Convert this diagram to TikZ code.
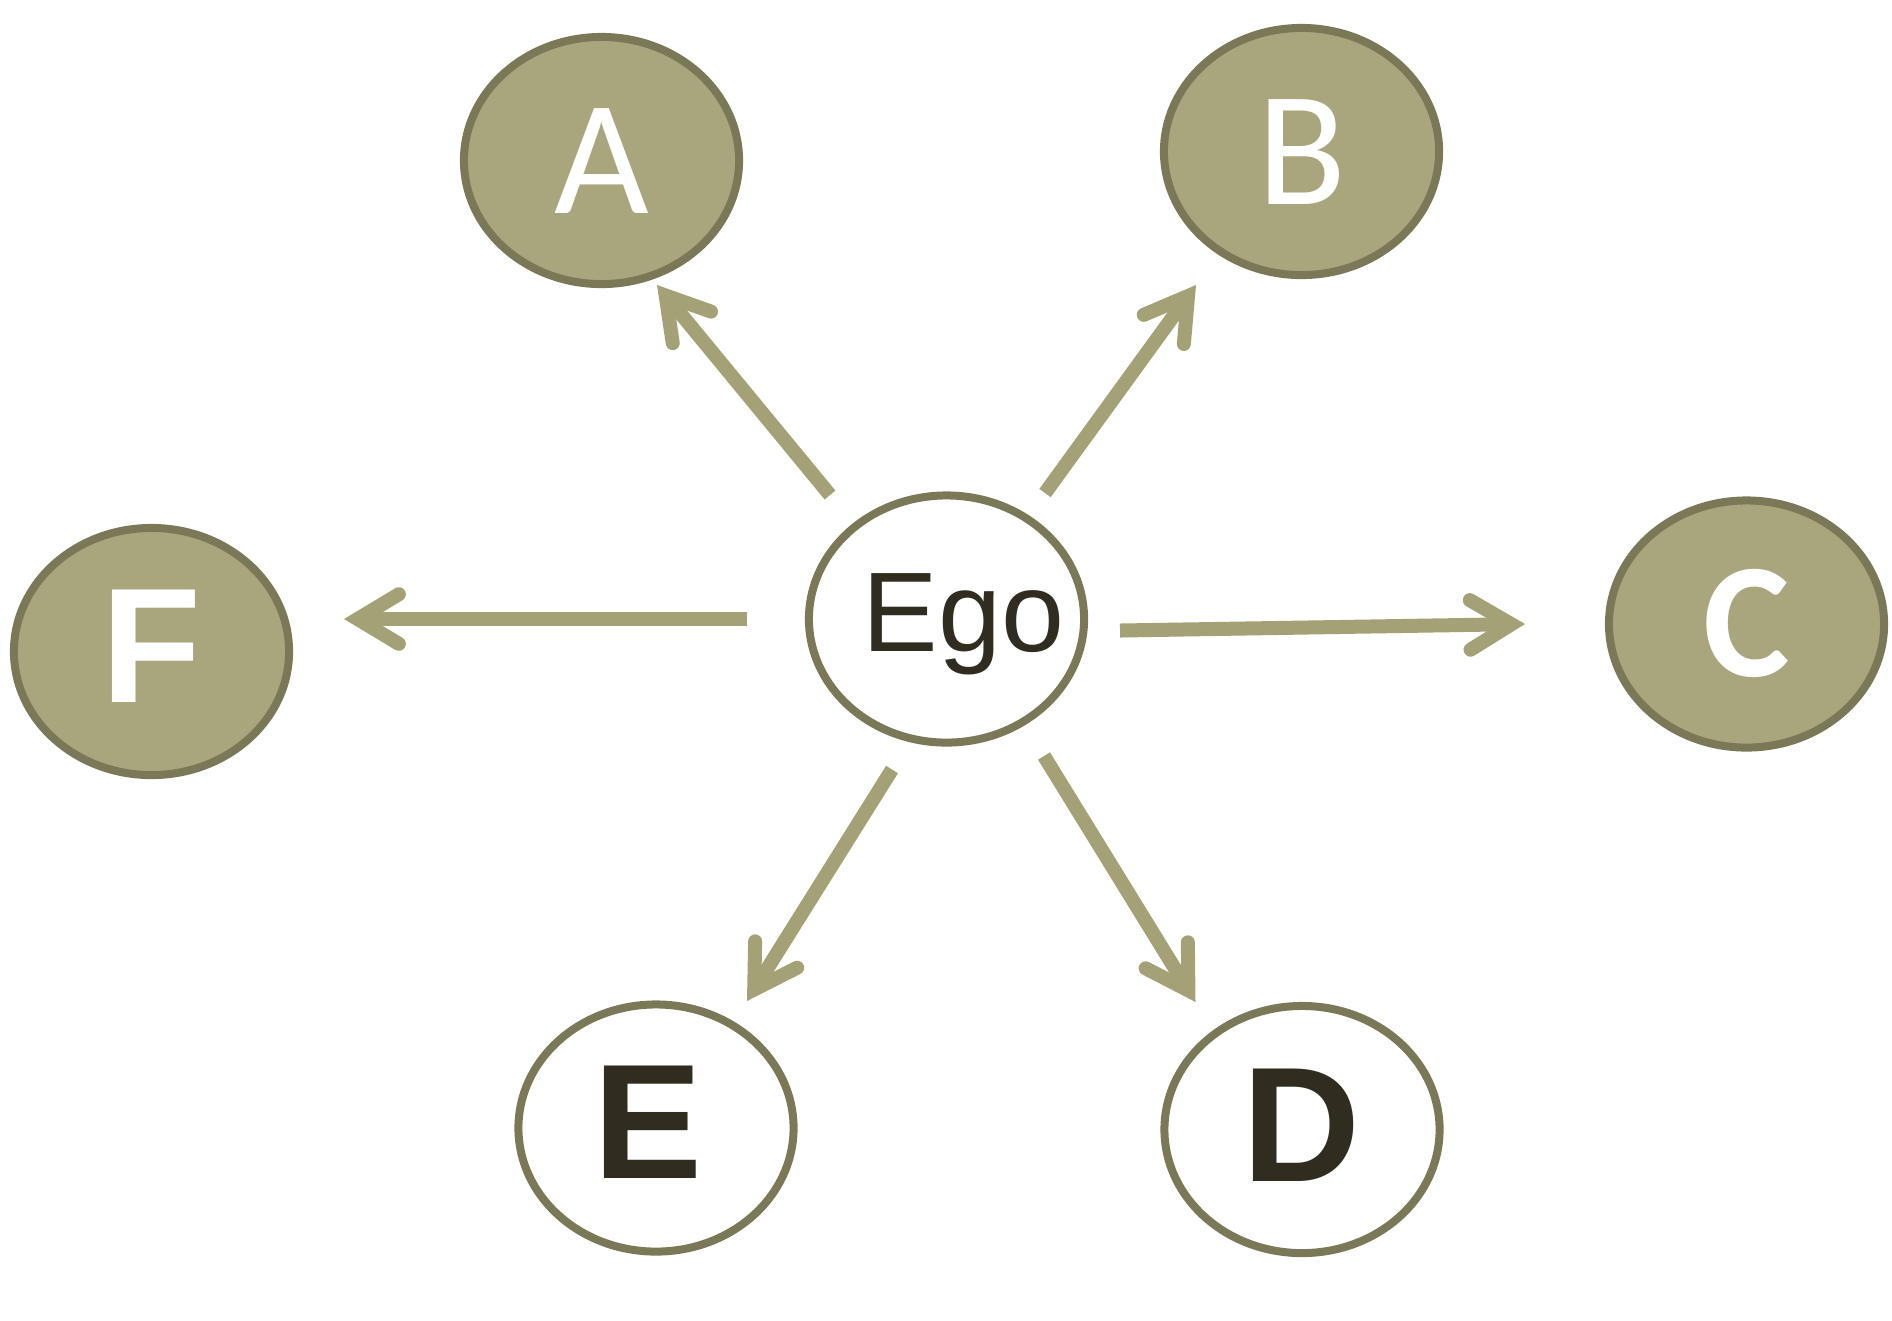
\documentclass[tikz,border=0pt]{standalone}
\usepackage{fontspec}
\newfontfamily\calfont{Carlito}
\newfontfamily\arifont{Liberation Sans}
\usetikzlibrary{shapes.geometric,calc}
\definecolor{nodefill}{HTML}{A9A57C}
\definecolor{nodeedge}{HTML}{7B7858}
\definecolor{arrowcol}{HTML}{A5A176}
\definecolor{inkdark}{HTML}{302C20}
\tikzset{
  person/.style={ellipse, draw=nodeedge, line width=0.08cm, minimum width=2.75cm,
    minimum height=2.47cm, inner sep=0pt, outer sep=0pt, text depth=0pt},
  filledp/.style={person, fill=nodefill, text=white},
  openp/.style={person, fill=white, text=inkdark},
  calbig/.style={font=\calfont\fontsize{46.5pt}{50pt}\selectfont, text height=1.05cm},
  calbold/.style={font=\calfont\bfseries\fontsize{46.5pt}{50pt}\selectfont, text height=1.05cm},
  aribold/.style={font=\arifont\bfseries\fontsize{46.5pt}{50pt}\selectfont, text height=1.17cm},
  arireg/.style={font=\arifont\fontsize{32.2pt}{36pt}\selectfont, text height=0.81cm},
  shaft/.style={draw=arrowcol, line width=0.14cm, line cap=butt},
  barb/.style={draw=arrowcol, line width=0.14cm, line cap=round, line join=miter},
}
\newcommand\conn[2]{%
  \path (#1) coordinate (cs) (#2) coordinate (ct);
  \coordinate (cv) at ($(ct)!0.136cm!(cs)$);
  \draw[shaft] (cs) -- (cv);
  \draw[barb] ($(cv)!0.481cm!31:(cs)$) -- (cv) -- ($(cv)!0.481cm!-31:(cs)$);
}
\begin{document}
\begin{tikzpicture}[x=0.01cm, y=-0.01cm]
  \fill[white] (0,0) rectangle (1892,1320);
  \useasboundingbox (0,0) rectangle (1892,1320);

  \node[openp, arireg, text depth=0.16cm] (ego) at (946.5,619) {\makebox[0pt]{\hspace{0.34cm}Ego}};
  \node[filledp, calbig] (A) at (601.5,160.5) {\makebox[0pt]{A}};
  \node[filledp, calbig] (B) at (1301.5,151.5) {\makebox[0pt]{B}};
  \node[filledp, calbold] (C) at (1746.5,624) {\makebox[0pt]{C}};
  \node[filledp, aribold, text depth=0.15cm] (F) at (151.5,651.5) {\makebox[0pt]{F}};
  \node[openp, aribold, text depth=0.16cm] (E) at (656,1128) {\makebox[0pt]{E\hspace{0.16cm}}};
  \node[openp, aribold, text depth=0.14cm] (D) at (1302,1129.5) {\makebox[0pt]{D}};

  \conn{$(ego)+(-116.5,-124)$}{$(A)+(55.5,124.5)$}
  \conn{$(ego)+(98.5,-126)$}{$(B)+(-105.5,133.5)$}
  \conn{$(ego)+(-200,0)$}{$(F)+(192.5,-32.5)$}
  \conn{$(ego)+(173.5,11.5)$}{$(C)+(-221.5,0)$}
  \conn{$(ego)+(-54.5,150.5)$}{$(E)+(91,-127)$}
  \conn{$(ego)+(97.5,137)$}{$(D)+(-106.5,-127.5)$}
\end{tikzpicture}
\end{document}
